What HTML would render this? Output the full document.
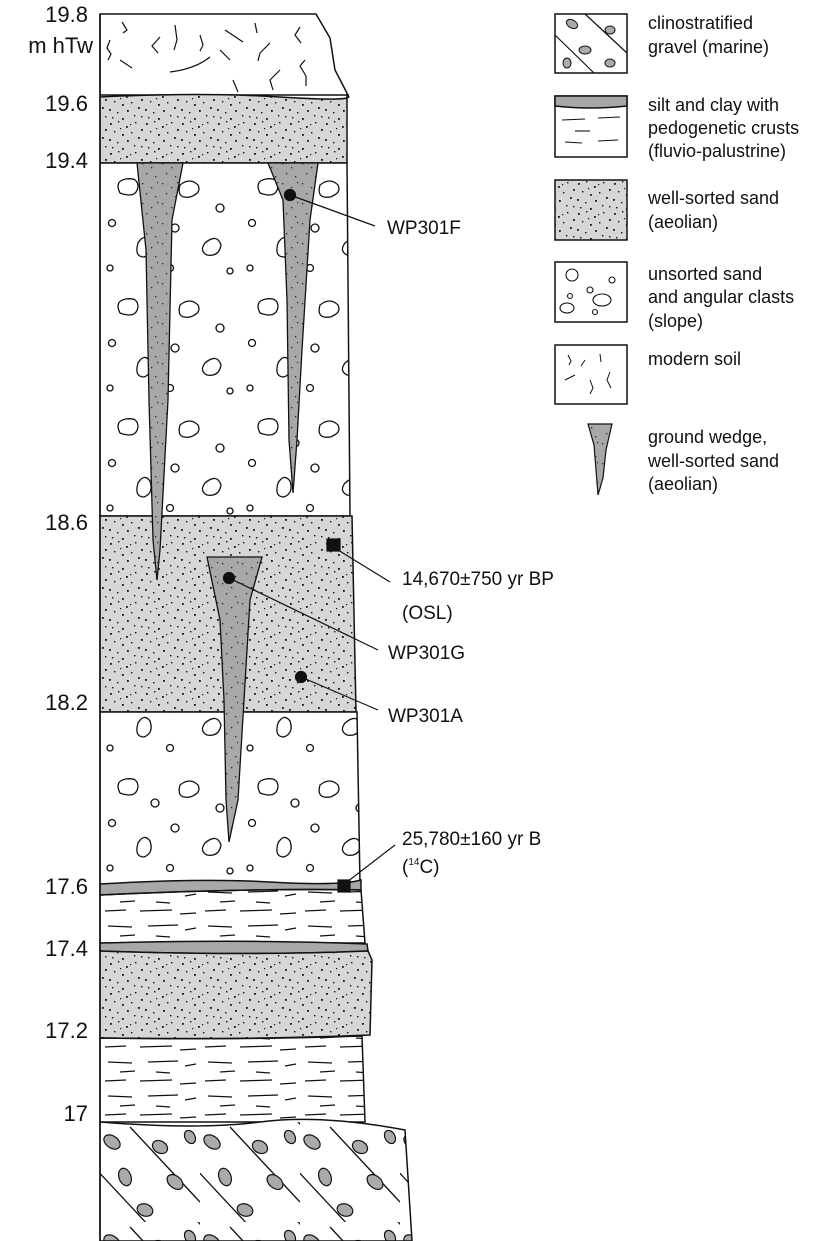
<!DOCTYPE html>
<html><head><meta charset="utf-8"><style>
html,body{margin:0;padding:0;background:#fff}
svg{display:block}
text{font-family:"Liberation Sans",Arial,sans-serif;fill:#111}
</style></head><body>
<svg width="825" height="1241" viewBox="0 0 825 1241" xmlns="http://www.w3.org/2000/svg">
<defs>
<pattern id="sand" width="36" height="30" patternUnits="userSpaceOnUse">
<rect width="36" height="30" fill="#d6d6d6"/>
<g fill="#111">
<rect x="2" y="3" width="1.8" height="1.8"/><rect x="10" y="1" width="1.4" height="1.4"/><rect x="18" y="6" width="1.8" height="1.8"/><rect x="27" y="2" width="1.4" height="1.4"/><rect x="33" y="9" width="1.8" height="1.8"/>
<rect x="6" y="11" width="1.4" height="1.4"/><rect x="14" y="14" width="1.8" height="1.8"/><rect x="23" y="12" width="1.4" height="1.4"/><rect x="30" y="17" width="1.8" height="1.8"/>
<rect x="1" y="19" width="1.8" height="1.8"/><rect x="9" y="22" width="1.4" height="1.4"/><rect x="19" y="20" width="1.8" height="1.8"/><rect x="26" y="25" width="1.4" height="1.4"/>
<rect x="4" y="27" width="1.4" height="1.4"/><rect x="14" y="28" width="1.8" height="1.8"/><rect x="33" y="26" width="1.4" height="1.4"/><rect x="22" y="4" width="1.2" height="1.2"/><rect x="12" y="8" width="1.2" height="1.2"/>
</g></pattern>
<pattern id="wedge" width="20" height="20" patternUnits="userSpaceOnUse">
<rect width="20" height="20" fill="#a8a8a8"/>
<g fill="#222"><rect x="2" y="3" width="1.3" height="1.3"/><rect x="11" y="7" width="1.3" height="1.3"/><rect x="6" y="13" width="1.3" height="1.3"/><rect x="15" y="16" width="1.3" height="1.3"/><rect x="17" y="2" width="1.2" height="1.2"/></g>
</pattern>
<pattern id="clast" width="140" height="120" patternUnits="userSpaceOnUse" patternTransform="translate(100 163)">
<rect width="140" height="120" fill="#fff"/>
<g fill="none" stroke="#111" stroke-width="1.3">
<path d="M20 30 q-6 -12 6 -14 q12 -2 12 8 q-2 12 -18 6z"/>
<path d="M80 22 q10 -8 18 0 q4 8 -8 12 q-14 2 -10 -12z"/>
<circle cx="55" cy="40" r="4"/><circle cx="120" cy="45" r="4"/>
<path d="M105 80 q12 -10 16 2 q-2 12 -14 10 q-8 -4 -2 -12z"/>
<path d="M38 80 q6 -10 12 -2 q4 12 -6 16 q-10 0 -6 -14z"/>
<circle cx="12" cy="60" r="3.5"/><circle cx="75" cy="65" r="4"/><circle cx="70" cy="105" r="3.5"/><circle cx="130" cy="108" r="3"/><circle cx="10" cy="105" r="3"/>
</g></pattern>
<pattern id="silt" width="100" height="34" patternUnits="userSpaceOnUse">
<g stroke="#111" stroke-width="1.3" fill="none">
<path d="M8 8 L32 9"/><path d="M48 8 L78 7"/><path d="M85 12 L96 10"/>
<path d="M20 18 L35 17"/><path d="M56 18 L70 19"/><path d="M5 27 L26 26"/><path d="M40 27 L72 26"/><path d="M80 30 L96 29"/>
</g></pattern>
<pattern id="grav" width="100" height="100" patternUnits="userSpaceOnUse" patternTransform="translate(100 1122)">
<rect width="100" height="100" fill="#fff"/>
<g stroke="#111" stroke-width="1.3"><path d="M30 5 L100 80"/><path d="M-20 30 L50 105"/><path d="M80 -20 L130 35"/></g>
<g fill="#aaa" stroke="#111" stroke-width="1.2">
<ellipse cx="12" cy="20" rx="9" ry="6" transform="rotate(35 12 20)"/>
<ellipse cx="60" cy="25" rx="8" ry="6" transform="rotate(30 60 25)"/>
<ellipse cx="25" cy="55" rx="6" ry="9" transform="rotate(-20 25 55)"/>
<ellipse cx="75" cy="60" rx="9" ry="6" transform="rotate(40 75 60)"/>
<ellipse cx="45" cy="88" rx="8" ry="6" transform="rotate(20 45 88)"/>
<ellipse cx="90" cy="15" rx="5" ry="7" transform="rotate(-30 90 15)"/>
</g></pattern>
</defs>

<g stroke="#111" stroke-width="1.5">
<path d="M100 14 L316 14 L330 38 L335 70 L348 95 L100 95 Z" fill="#fff"/>
<g fill="none" stroke-width="1.2">
<path d="M122 22 l5 8 -4 3"/><path d="M110 40 l-3 8 4 6 -3 6"/><path d="M160 37 l-8 9 6 7"/><path d="M175 25 l2 15 -3 10"/><path d="M200 35 l3 10 -3 6"/><path d="M225 30 l18 12"/><path d="M255 23 l2 10"/><path d="M300 27 l-5 8 6 8"/><path d="M120 60 l12 8"/><path d="M170 72 q25 -3 40 -15"/><path d="M220 50 l10 10"/><path d="M270 43 l-10 10 -2 8"/><path d="M280 70 l-10 10 3 10"/><path d="M305 60 l-5 6 6 10 0 10"/><path d="M233 80 l5 12"/>
</g>
<path d="M100 97 Q200 92 280 97 T347 95 L347 163 L100 163 Z" fill="url(#sand)"/>
<path d="M100 163 L347 163 L350 516 L100 516 Z" fill="url(#clast)"/>
<path d="M100 516 L352 516 L356 712 L100 712 Z" fill="url(#sand)"/>
<path d="M100 712 L357 712 L360 884 L100 884 Z" fill="url(#clast)"/>
<path d="M100 884 Q200 878 270 882 T361 880 L361 890 Q250 888 100 895 Z" fill="#a8a8a8"/>
<path d="M100 895 Q250 888 361 890 L365 943 L100 943 Z" fill="url(#silt)"/>
<path d="M100 943 Q250 939 367 944 L368 951 Q250 956 100 951 Z" fill="#a8a8a8"/>
<path d="M100 951 Q250 956 368 951 L372 960 L370 1035 Q250 1040 100 1038 Z" fill="url(#sand)"/>
<path d="M100 1038 Q250 1040 362 1036 L365 1122 L100 1122 Z" fill="url(#silt)"/>
<path d="M100 1122 Q200 1130 260 1122 T405 1130 L412 1241 L100 1241 Z" fill="url(#grav)"/>
<path d="M100 14 L100 1241" fill="none"/>
</g>

<g stroke="#111" stroke-width="1.3" fill="url(#wedge)">
<path d="M137 163 L183 163 L172 220 L168 400 L160 550 L157 580 L153 540 L149 400 L146 250 Z"/>
<path d="M268 163 L318 163 L310 220 L302 350 L297 440 L293 493 L289 440 L287 300 L283 200 Z"/>
<path d="M207 557 L262 557 L250 600 L244 700 L238 800 L229 842 L226 800 L224 700 L220 620 Z"/>
</g>

<g fill="#111" stroke="#111" stroke-width="1.2">
<circle cx="290" cy="195" r="5.5"/><path d="M290 195 L375 226" fill="none"/>
<rect x="327" y="539" width="13" height="12"/><path d="M338 550 L390 582" fill="none"/>
<circle cx="229" cy="578" r="5.5"/><path d="M229 578 L378 650" fill="none"/>
<circle cx="301" cy="677" r="5.5"/><path d="M301 677 L378 710" fill="none"/>
<rect x="338" y="880" width="12" height="12"/><path d="M347 882 L395 845" fill="none"/>
</g>

<g font-size="19">
<text x="387" y="234">WP301F</text>
<text x="402" y="585">14,670±750 yr BP</text>
<text x="402" y="619">(OSL)</text>
<text x="388" y="659">WP301G</text>
<text x="388" y="722">WP301A</text>
<text x="402" y="845">25,780±160 yr  B</text>
<text x="402" y="873">(<tspan font-size="10" dy="-8">14</tspan><tspan dy="8">C)</tspan></text>
</g>

<g font-size="22" text-anchor="end">
<text x="88" y="22">19.8</text>
<text x="93" y="53">m hTw</text>
<text x="88" y="111">19.6</text>
<text x="88" y="168">19.4</text>
<text x="88" y="530">18.6</text>
<text x="88" y="710">18.2</text>
<text x="88" y="894">17.6</text>
<text x="88" y="956">17.4</text>
<text x="88" y="1038">17.2</text>
<text x="88" y="1121">17</text>
</g>

<g stroke="#111" stroke-width="1.5">
<rect x="555" y="14" width="72" height="59" fill="#fff"/>
<g stroke-width="1.2"><path d="M585 14 L627 53"/><path d="M555 35 L594 73"/></g>
<g fill="#aaa" stroke-width="1"><ellipse cx="572" cy="24" rx="6" ry="4" transform="rotate(30 572 24)"/><ellipse cx="610" cy="30" rx="5" ry="4"/><ellipse cx="585" cy="50" rx="6" ry="4"/><ellipse cx="567" cy="63" rx="4" ry="5"/><ellipse cx="610" cy="63" rx="5" ry="4"/></g>
<rect x="555" y="96" width="72" height="61" fill="#fff"/>
<path d="M555 96 L627 96 L627 106 Q590 110 555 106 Z" fill="#a8a8a8"/>
<g stroke-width="1.1"><path d="M562 120 L585 119"/><path d="M598 118 L620 117"/><path d="M575 131 L590 131"/><path d="M565 142 L582 143"/><path d="M598 141 L618 140"/></g>
<rect x="555" y="180" width="72" height="60" fill="url(#sand)"/>
<rect x="555" y="262" width="72" height="60" fill="#fff"/>
<g fill="none" stroke-width="1.1"><circle cx="572" cy="275" r="6"/><ellipse cx="602" cy="300" rx="9" ry="6"/><ellipse cx="567" cy="308" rx="7" ry="5"/><circle cx="590" cy="290" r="3"/><circle cx="570" cy="296" r="2.5"/><circle cx="612" cy="280" r="3"/><circle cx="595" cy="312" r="2.5"/></g>
<rect x="555" y="345" width="72" height="59" fill="#fff"/>
<g fill="none" stroke-width="1"><path d="M568 355 l3 6 -2 4"/><path d="M585 360 l-4 6"/><path d="M600 354 l1 8"/><path d="M565 380 l10 -5"/><path d="M590 380 l3 8 -3 6"/><path d="M610 372 l-3 8 4 8"/></g>
<path d="M588 424 L612 424 L606 450 L603 478 L598 495 L596 470 L594 445 Z" fill="url(#wedge)" stroke-width="1.2"/>
</g>
<g font-size="18">
<text x="648" y="29">clinostratified</text>
<text x="648" y="53">gravel (marine)</text>
<text x="648" y="111">silt and clay with</text>
<text x="648" y="134">pedogenetic crusts</text>
<text x="648" y="157">(fluvio-palustrine)</text>
<text x="648" y="204">well-sorted sand</text>
<text x="648" y="228">(aeolian)</text>
<text x="648" y="280">unsorted sand</text>
<text x="648" y="303">and angular clasts</text>
<text x="648" y="327">(slope)</text>
<text x="648" y="365">modern soil</text>
<text x="648" y="443">ground wedge,</text>
<text x="648" y="467">well-sorted sand</text>
<text x="648" y="490">(aeolian)</text>
</g>
</svg>
</body></html>
